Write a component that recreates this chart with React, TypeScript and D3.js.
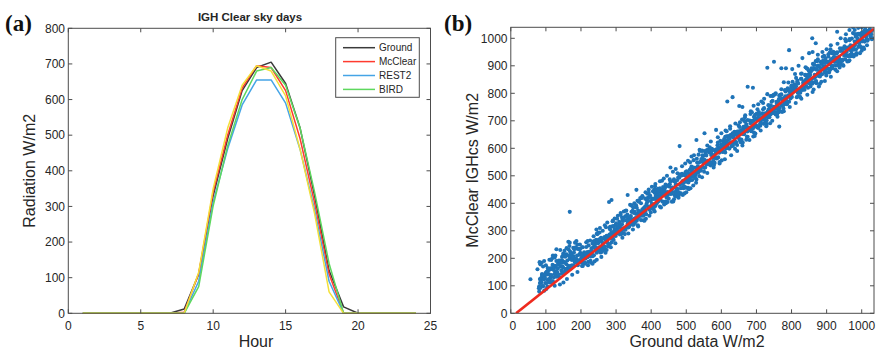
import React from "react";
import * as d3 from "d3";

// ---------- Panel (a) data ----------
const hours = [1,2,3,4,5,6,7,8,9,10,11,12,13,14,15,16,17,18,19,20,21,22,23,24];
const ground  = [0,0,0,0,0,0,0,12,110,330,490,625,690,705,645,520,330,120,18,0,0,0,0,0];
const mcclear = [0,0,0,0,0,0,0,3,112,340,500,632,695,690,625,490,310,110,0,0,0,0,0,0];
const rest2   = [0,0,0,0,0,0,0,0,90,312,462,585,655,655,590,460,290,90,0,0,0,0,0,0];
const bird    = [0,0,0,0,0,0,0,0,75,302,470,600,680,690,640,520,340,140,0,0,0,0,0,0];
const extra   = [0,0,0,0,0,0,0,0,115,350,520,640,695,680,610,460,280,60,0,0,0,0,0,0];
const seriesNames = ["Ground", "McClear", "REST2", "BIRD"];
const xTicksA = [0,5,10,15,20,25];
const yTicksA = [0,100,200,300,400,500,600,700,800];

// ---------- Panel (b) data : [ground, McClear] ----------
const coreLow: [number, number][] = [
[80,91],[81,98],[83,110],[84,92],[86,110],[87,114],[89,139],[90,138],[92,98],[93,135],[95,124],[96,126],[98,110],[99,141],[101,109],[102,151],[104,97],[105,150],[107,124],[108,158],[110,112],[111,159],[113,164],[114,128],[116,139],[117,112],[119,160],[120,117],[122,158],[123,171],[125,144],[126,173],[128,138],[129,168],[131,133],[132,148],[134,163],[135,179],[137,141],[138,183],[140,191],[141,170],[143,183],[144,156],[146,187],[147,171],[149,166],[150,149],[152,186],[153,185],[155,206],[156,161],[158,179],[159,156],[161,192],[162,162],[164,173],[165,171],[167,163],[168,198],[170,204],[171,219],[173,215],[174,194],[176,173],[177,202],[179,174],[180,221],[182,188],[183,185],[185,192],[186,199],[188,236],[189,186],[191,190],[192,234],[194,235],[195,194],[197,233],[198,220],
[200,185],[201,194],[203,172],[204,214],[206,185],[207,198],[209,208],[210,185],[212,183],[213,214],[215,241],[216,210],[218,223],[219,204],[221,218],[222,247],[224,221],[225,211],[227,218],[228,207],[230,236],[231,224],[233,254],[234,208],[236,262],[237,239],[239,246],[240,264],[242,230],[243,239],[245,220],[246,264],[248,261],[249,255],[251,268],[252,240],[254,269],[255,263],[257,275],[258,236],[260,259],[261,272],[263,243],[264,243],[266,239],[267,243],[269,271],[270,267],[272,274],[273,282],[275,257],[276,272],[278,248],[279,276],[281,286],[282,252],[284,284],[285,272],[287,295],[288,285],[290,271],[291,279],[293,317],[294,298],[296,307],[297,301],[299,281]
];
const coreMid: [number, number][] = [
[300,327],[302,299],[303,291],[305,299],[306,292],[308,315],[309,323],[311,287],[312,320],[314,324],[315,296],[317,324],[318,339],[320,336],[321,346],[323,304],[324,308],[326,353],[327,304],[329,338],[330,351],[332,359],[333,337],[335,312],[336,318],[338,319],[339,333],[341,339],[342,354],[344,369],[345,332],[347,373],[348,342],[350,322],[351,330],[353,345],[354,329],[356,346],[357,361],[359,384],[360,344],[362,362],[363,374],[365,350],[366,361],[368,365],[369,369],[371,400],[372,355],[374,371],[375,378],[377,359],[378,355],[380,378],[381,371],[383,389],[384,372],[386,360],[387,398],[389,406],[390,419],[392,419],[393,422],[395,385],[396,423],[398,381],[399,408],[401,383],[402,397],[404,387],[405,396],[407,416],[408,390],[410,438],[411,389],[413,416],[414,397],[416,420],[417,437],[419,435],[420,420],[422,408],[423,442],[425,455],[426,414],[428,429],[429,435],[431,447],[432,435],[434,459],[435,441],[437,440],[438,453],[440,441],[441,468],[443,428],[444,463],[446,441],[447,430],[449,439],
[450,417],[452,468],[453,468],[455,434],[456,441],[458,453],[459,435],[461,453],[462,457],[464,482],[465,481],[467,441],[468,478],[470,467],[471,469],[473,453],[474,484],[476,452],[477,494],[479,440],[480,493],[482,467],[483,501],[485,455],[486,502],[488,507],[489,471],[491,482],[492,455],[494,503],[495,460],[497,501],[498,514],[500,487],[501,516],[503,481],[504,511],[506,476],[507,491],[509,506],[510,522],[512,484],[513,526],[515,534],[516,513],[518,526],[519,499],[521,530],[522,514],[524,509],[525,492],[527,529],[528,528]
];
const coreHigh: [number, number][] = [
[530,562],[531,517],[533,535],[534,512],[536,548],[537,518],[539,529],[540,527],[542,519],[543,554],[545,560],[546,575],[548,571],[549,550],[551,529],[552,558],[554,530],[555,577],[557,544],[558,541],[560,548],[561,555],[563,592],[564,542],[566,546],[567,590],[569,591],[570,550],[572,589],[573,576],[575,565],[576,574],[578,552],[579,594],[581,565],[582,578],[584,588],[585,565],[587,563],[588,594],[590,621],[591,590],[593,603],[594,584],[596,598],[597,627],[599,601],[600,591],[602,598],[603,587],[605,616],[606,604],[608,634],[609,588],[611,642],[612,619],[614,626],[615,644],[617,610],[618,619],[620,600],[621,644],[623,641],[624,635],[626,648],[627,620],[629,649],[630,643],[632,655],[633,616],[635,639],[636,652],[638,623],[639,623],[641,619],[642,623],[644,651],[645,647],[647,654],[648,662],[650,637],[651,652],[653,628],[654,656],[656,666],[657,632],[659,664],[660,652],[662,675],[663,665],[665,651],[666,659],[668,697],[669,678],[671,687],[672,681],[674,661],[675,703],[677,675],[678,667],[680,675],[681,668],[683,691],[684,699],[686,663],[687,696],[689,700],[690,672],[692,700],[693,715],[695,712],[696,722],[698,680],[699,684],
[701,726],[702,677],[704,711],[705,724],[707,732],[708,710],[710,685],[711,691],[713,692],[714,706],[716,712],[717,727],[719,742],[720,705],[722,746],[723,715],[725,695],[726,703],[728,718],[729,702],[731,719],[732,734],[734,757],[735,717],[737,735],[738,747],[740,723],[741,734],[743,738],[744,742],[746,773],[747,728],[749,744],[750,751],[752,732],[753,728],[755,751],[756,744],[758,762],[759,745],[761,733],[762,771],[764,779],[765,792],[767,792],[768,795],[770,758],[771,796],[773,754],[774,781],[776,756],[777,770],[779,760],[780,769],[782,789],[783,763],[785,811],[786,762],[788,789],[789,770],[791,793],[792,810],[794,808],[795,793],[797,781],[798,815],[800,828],[801,787],[803,802],[804,808],[806,820],[807,808],[809,832],[810,814],[812,813],[813,826],[815,814],[816,841],[818,801],[819,836],[821,814],[822,803],[824,812],[825,802],[827,853],[828,853]
];
const coreTop: [number, number][] = [
[830,819],[831,826],[833,838],[834,820],[836,838],[837,842],[839,867],[840,866],[842,826],[843,863],[845,852],[846,854],[848,838],[849,869],[851,837],[852,879],[854,825],[855,878],[857,852],[858,886],[860,840],[861,887],[863,892],[864,856],[866,867],[867,840],[869,888],[870,845],[872,886],[873,899],[875,872],[876,901],[878,866],[879,896],[881,861],[882,876],[884,891],[885,907],[887,869],[888,911],[890,919],[891,898],[893,911],[894,884],[896,915],[897,899],[899,894],[900,877],[902,914],[903,913],[905,934],[906,889],[908,907],[909,884],[911,920],[912,890],[914,901],[915,899],[917,891],[918,926],[920,932],[921,947],[923,943],[924,922],[926,901],[927,930],[929,902],[930,949],[932,916],[933,913],[935,920],[936,927],[938,964],[939,914],[941,918],[942,962],[944,963],[945,922],[947,961],[948,948],[950,937],[951,946],[953,924],[954,966],[956,937],[957,950],[959,960],[960,937],[962,935],[963,966],[965,993],[966,962],[968,975],[969,956],[971,970],[972,999],[974,973],[975,963],[977,970],[978,959],[980,988],[981,976],[983,1006],[984,960],[986,1014],[987,991],[989,998],[990,1016],[992,982],[993,991],[995,972],[996,1016],[998,1013],[999,1007],[1001,1020],[1002,992],[1004,1021],[1005,1015],[1007,1027],[1008,988],[1010,1011],[1011,1024],[1013,995],[1014,995],[1016,991],[1017,995],[1019,1023],[1020,1019],[1022,1026],[1023,1034],[1025,1009],[1026,1024],[1028,1000],[1029,1028]
];
const wideLow: [number, number][] = [
[81,79],[83,125],[85,118],[87,129],[89,143],[91,99],[93,125],[95,82],[97,130],[99,146],[101,88],[103,141],[105,121],[107,159],[109,142],[111,117],[113,131],[115,194],[117,162],[119,176],[121,166],[123,131],[125,203],[127,153],[129,140],[131,152],[133,141],[135,179],[137,192],[139,130],[141,186],[143,192],[145,144],[147,191],[149,216],[151,210],[153,227],[155,154],[157,161],[159,237],[161,153],[163,210],[165,232],[167,245],[169,207],[171,163],[173,174],[175,174],[177,198],[179,207],[181,233],[183,257],[185,194],[187,263],[189,210],[191,175],[193,189],[195,213],[197,186],[199,214],
[201,202],[203,240],[205,172],[207,202],[209,222],[211,180],[213,199],[215,204],[217,212],[219,263],[221,187],[223,212],[225,225],[227,191],[229,184],[231,222],[233,211],[235,240],[237,211],[239,189],[241,254],[243,267],[245,289],[247,288],[249,293],[251,229],[253,294],[255,221],[257,267],[259,223],[261,247],[263,229],[265,244],[267,277],[269,233],[271,313],[273,230],[275,275],[277,243],[279,280],[281,310],[283,305],[285,280],[287,258],[289,316],[291,337],[293,267],[295,291],[297,302],[299,321]
];
const wideMid: [number, number][] = [
[301,305],[303,344],[305,314],[307,311],[309,333],[311,311],[313,358],[315,288],[317,348],[319,309],[321,291],[323,305],[325,288],[327,373],[329,374],[331,314],[333,326],[335,346],[337,315],[339,344],[341,352],[343,393],[345,391],[347,322],[349,385],[351,365],[353,369],[355,340],[357,393],[359,337],[361,409],[363,316],[365,406],[367,360],[369,419],[371,339],[373,419],[375,426],[377,365],[379,383],[381,337],[383,417],[385,344],[387,413],[389,435],[391,388],[393,438],[395,377],[397,428],[399,367],[401,393],[403,417],[405,444],[407,378],[409,450],[411,462],[413,427],[415,448],[417,402],[419,453],[421,426],[423,416],[425,388],[427,449],[429,448],[431,482],[433,406],[435,435],[437,396],[439,456],[441,406],[443,423],[445,420],[447,405],[449,465],
[451,461],[453,487],[455,479],[457,444],[459,406],[461,456],[463,407],[465,487],[467,430],[469,425],[471,435],[473,448],[475,509],[477,424],[479,430],[481,505],[483,505],[485,436],[487,501],[489,479],[491,459],[493,474],[495,436],[497,507],[499,457],[501,479],[503,495],[505,456],[507,451],[509,504],[511,549],[513,496],[515,517],[517,485],[519,507],[521,557],[523,511],[525,495],[527,505],[529,487]
];
const wideHigh: [number, number][] = [
[531,548],[533,527],[535,577],[537,499],[539,590],[541,551],[543,561],[545,592],[547,533],[549,549],[551,515],[553,590],[555,584],[557,574],[559,594],[561,547],[563,595],[565,585],[567,604],[569,538],[571,576],[573,598],[575,547],[577,548],[579,539],[581,547],[583,593],[585,586],[587,597],[589,611],[591,567],[593,593],[595,550],[597,598],[599,614],[601,556],[603,609],[605,589],[607,627],[609,610],[611,585],[613,599],[615,662],[617,630],[619,644],[621,634],[623,599],[625,671],[627,621],[629,608],[631,620],[633,609],[635,647],[637,660],[639,598],[641,654],[643,660],[645,612],[647,659],[649,684],[651,678],[653,695],[655,622],[657,629],[659,705],[661,621],[663,678],[665,700],[667,713],[669,675],[671,631],[673,642],[675,642],[677,666],[679,675],[681,701],[683,725],[685,662],[687,731],[689,678],[691,643],[693,657],[695,681],[697,654],[699,682],
[701,704],[703,742],[705,674],[707,704],[709,724],[711,682],[713,701],[715,706],[717,714],[719,765],[721,689],[723,714],[725,727],[727,693],[729,686],[731,724],[733,713],[735,742],[737,713],[739,691],[741,756],[743,769],[745,791],[747,790],[749,795],[751,731],[753,796],[755,723],[757,769],[759,725],[761,749],[763,731],[765,746],[767,779],[769,735],[771,815],[773,732],[775,777],[777,745],[779,782],[781,812],[783,807],[785,782],[787,760],[789,818],[791,839],[793,769],[795,793],[797,804],[799,823],[801,803],[803,842],[805,812],[807,809],[809,831],[811,809],[813,856],[815,786],[817,846],[819,807],[821,789],[823,803],[825,786],[827,871],[829,872]
];
const wideTop: [number, number][] = [
[831,812],[833,824],[835,844],[837,813],[839,842],[841,850],[843,891],[845,889],[847,820],[849,883],[851,863],[853,867],[855,838],[857,891],[859,835],[861,907],[863,814],[865,904],[867,858],[869,917],[871,837],[873,917],[875,924],[877,863],[879,881],[881,835],[883,915],[885,842],[887,911],[889,933],[891,886],[893,936],[895,875],[897,926],[899,865],[901,891],[903,915],[905,942],[907,876],[909,948],[911,960],[913,925],[915,946],[917,900],[919,951],[921,924],[923,914],[925,886],[927,947],[929,946],[931,980],[933,904],[935,933],[937,894],[939,954],[941,904],[943,921],[945,918],[947,903],[949,963],[951,971],[953,997],[955,989],[957,954],[959,916],[961,966],[963,917],[965,997],[967,940],[969,935],[971,945],[973,958],[975,1019],[977,934],[979,940],[981,1015],[983,1015],[985,946],[987,1011],[989,989],[991,969],[993,984],[995,946],[997,1017],[999,967],[1001,989],[1003,1005],[1005,966],[1007,961],[1009,1014],[1011,1059],[1013,1006],[1015,1027],[1017,995],[1019,1017],[1021,1067],[1023,1021],[1025,1005],[1027,1015],[1029,997]
];
const fringe: [number, number][] = [
[84,178],[88,184],[95,190],[110,195],[118,200],[127,210],[130,233],[141,230],[152,215],[159,215],[164,260],[168,257],[169,225],[178,238],[185,240],[130,190],[105,165],[100,175],[92,170],[76,160],[82,186],[56,124],[168,369],[120,210],[146,205],[190,250],[197,250],
[150,112],[160,125],[175,140],[190,150],[140,105],[125,100],
[205,240],[215,258],[226,265],[236,280],[244,305],[247,290],[254,310],[262,300],[268,320],[275,330],[283,315],[290,335],[296,345],[287,412],[280,405],[233,180],[245,195],[258,205],[270,220],[285,240],[298,255],[220,175],
[305,355],[313,365],[322,370],[333,430],[340,395],[352,400],[358,449],[365,410],[375,425],[384,440],[393,450],[402,460],[412,470],[425,480],[436,490],[445,500],[318,275],[335,290],[348,305],[362,320],[378,338],[395,355],[410,370],[428,385],[442,400],
[455,530],[462,515],[470,525],[481,608],[488,535],[497,545],[505,555],[515,570],[522,575],[465,415],[478,420],[490,430],[500,440],[512,455],[520,465],[528,475],
[529,630],[538,595],[545,590],[552,655],[560,610],[570,625],[585,667],[590,640],[600,655],[612,665],[617,770],[625,680],[632,786],[640,690],[651,754],[660,750],[668,720],[675,824],[684,735],[692,755],[545,495],[560,510],[578,530],[595,545],[610,560],[628,575],[645,590],[660,610],[680,630],[695,645],
[705,760],[714,770],[722,780],[731,797],[731,893],[740,790],[750,915],[755,800],[765,679],[771,891],[778,840],[784,891],[793,957],[802,888],[810,870],[820,900],[831,928],[840,895],[850,946],[712,665],[728,680],[745,700],[760,715],[778,735],[795,750],[812,765],[828,780],[845,795],[690,820],
[859,1000],[869,982],[860,950],[875,940],[888,950],[900,960],[912,975],[930,1024],[940,1000],[955,1015],[965,1030],[975,1040],[860,805],[878,825],[895,845],[912,860],[930,880],[948,900],[965,920],[985,940],[1000,955],[1015,975],[1030,1000],[1000,1040],[1010,1038],[990,1038],[980,1030]
];
const fitGround = [15, 1035];
const fitMcClear = [0, 1035];
const xTicksB = [0,100,200,300,400,500,600,700,800,900,1000];
const yTicksB = [0,100,200,300,400,500,600,700,800,900,1000];

const FONT = "'Liberation Sans', Arial, Helvetica, sans-serif";
const AXIS = "#4d4d4d";
const TXT = "#262626";

function Frame({ x0, x1, y0, y1 }: { x0: number; x1: number; y0: number; y1: number }) {
  return <rect x={x0} y={y0} width={x1 - x0} height={y1 - y0} fill="none" stroke={AXIS} strokeWidth={1} />;
}

export default function App() {
  // panel a
  const ax = d3.scaleLinear().domain([0, 25]).range([68.3, 430.5]);
  const ay = d3.scaleLinear().domain([0, 800]).range([313.3, 28.3]);
  const lineA = (vals: number[]) =>
    d3.line<number>().x((_, i) => ax(hours[i])).y((v) => ay(v))(vals) || "";
  const seriesA = [
    { vals: ground, color: "#3a3a3a" },
    { vals: mcclear, color: "#ff3b2f" },
    { vals: rest2, color: "#45a4e6" },
    { vals: bird, color: "#5ed85e" },
    { vals: extra, color: "#f3e03a" },
  ];

  // panel b
  const bx = d3.scaleLinear().domain([0, 1035]).range([510.8, 874]);
  const by = d3.scaleLinear().domain([0, 1040]).range([313.3, 27.3]);
  const allPts = [...fringe, ...wideLow, ...wideMid, ...wideHigh, ...wideTop,
    ...coreLow, ...coreMid, ...coreHigh, ...coreTop];
  const fitPath =
    d3.line<number>().x((v) => bx(v)).y((_, i) => by(fitMcClear[i]))(fitGround) || "";

  const tl = 4;
  return (
    <svg width={876} height={352} style={{ position: "absolute", left: 0, top: 0, background: "#fff" }}
      fontFamily={FONT}>
      <defs>
        <clipPath id="clipB">
          <rect x={bx(0)} y={by(1040)} width={bx(1035) - bx(0)} height={by(0) - by(1040)} />
        </clipPath>
      </defs>
      {/* ===== Panel a ===== */}
      <text x={5} y={31} fontFamily="'Liberation Serif', 'Times New Roman', serif" fontWeight="bold" fontSize={23} fill="#111">(a)</text>
      <text x={250} y={21} textAnchor="middle" fontWeight="bold" fontSize={11.5} fill={TXT}>IGH Clear sky days</text>
      {seriesA.map((s, i) => (
        <path key={i} d={lineA(s.vals)} fill="none" stroke={s.color} strokeWidth={1.5} strokeLinejoin="round" />
      ))}
      <Frame x0={ax(0)} x1={ax(25)} y0={ay(800)} y1={ay(0)} />
      {xTicksA.map((t) => (
        <g key={t}>
          <line x1={ax(t)} x2={ax(t)} y1={ay(0)} y2={ay(0) - tl} stroke={AXIS} />
          <line x1={ax(t)} x2={ax(t)} y1={ay(800)} y2={ay(800) + tl} stroke={AXIS} />
          <text x={ax(t)} y={329.5} textAnchor="middle" fontSize={12} fill={TXT}>{t}</text>
        </g>
      ))}
      {yTicksA.map((t) => (
        <g key={t}>
          <line x1={ax(0)} x2={ax(0) + tl} y1={ay(t)} y2={ay(t)} stroke={AXIS} />
          <line x1={ax(25)} x2={ax(25) - tl} y1={ay(t)} y2={ay(t)} stroke={AXIS} />
          <text x={65} y={ay(t) + 4.3} textAnchor="end" fontSize={12} fill={TXT}>{t}</text>
        </g>
      ))}
      <text x={256} y={347} textAnchor="middle" fontSize={16} fill={TXT}>Hour</text>
      <text transform={`translate(35,${ay(400)})rotate(-90)`} textAnchor="middle" fontSize={16} fill={TXT}>Radiation W/m2</text>
      {/* legend */}
      <rect x={335.7} y={37.7} width={83.6} height={59.6} fill="#fff" stroke={AXIS} strokeWidth={1} />
      {seriesNames.map((n, i) => (
        <g key={n}>
          <line x1={343} x2={375} y1={47.7 + i * 13.9} y2={47.7 + i * 13.9} stroke={seriesA[i].color} strokeWidth={1.5} />
          <text x={379} y={47.7 + i * 13.9 + 3.5} fontSize={10} fill={TXT}>{n}</text>
        </g>
      ))}

      {/* ===== Panel b ===== */}
      <text x={444} y={31} fontFamily="'Liberation Serif', 'Times New Roman', serif" fontWeight="bold" fontSize={23} fill="#111">(b)</text>
      <g clipPath="url(#clipB)">
        {allPts.map((p, i) => (
          <circle key={i} cx={bx(p[0])} cy={by(p[1])} r={2.05} fill="#1f74b8" />
        ))}
        <path d={fitPath} stroke="#ee2a1e" strokeWidth={2.6} fill="none" />
      </g>
      <Frame x0={bx(0)} x1={bx(1035)} y0={by(1040)} y1={by(0)} />
      {xTicksB.map((t) => (
        <g key={t}>
          <line x1={bx(t)} x2={bx(t)} y1={by(0)} y2={by(0) - tl} stroke={AXIS} />
          <line x1={bx(t)} x2={bx(t)} y1={by(1040)} y2={by(1040) + tl} stroke={AXIS} />
          <text x={bx(t) + (t === 0 ? 2 : 0)} y={329.5} textAnchor="middle" fontSize={12} fill={TXT}>{t}</text>
        </g>
      ))}
      {yTicksB.map((t) => (
        <g key={t}>
          <line x1={bx(0)} x2={bx(0) + tl} y1={by(t)} y2={by(t)} stroke={AXIS} />
          <line x1={bx(1035)} x2={bx(1035) - tl} y1={by(t)} y2={by(t)} stroke={AXIS} />
          <text x={507.5} y={by(t) + 4.3} textAnchor="end" fontSize={12} fill={TXT}>{t}</text>
        </g>
      ))}
      <text x={697} y={347} textAnchor="middle" fontSize={16} fill={TXT}>Ground data W/m2</text>
      <text transform={`translate(477.5,${by(520)})rotate(-90)`} textAnchor="middle" fontSize={16} fill={TXT}>McClear IGHcs W/m2</text>
    </svg>
  );
}
